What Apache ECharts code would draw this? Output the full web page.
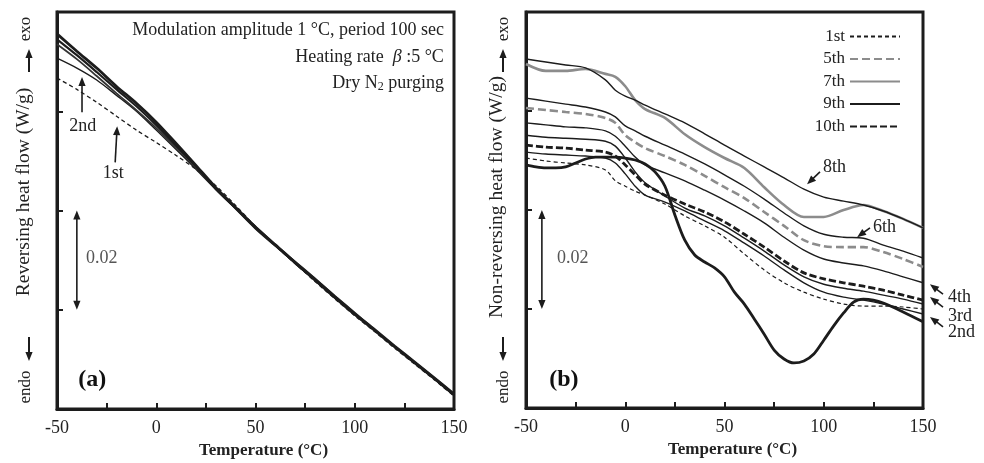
<!DOCTYPE html>
<html>
<head>
<meta charset="utf-8">
<script src="https://cdn.jsdelivr.net/npm/echarts@6/dist/echarts.min.js"></script>
<style>
html, body { margin: 0; padding: 0; background: #fff; }
#chart { width: 984px; height: 463px; }
</style>
</head>
<body>
<div id="chart"></div>
<script>
// ---- panel (a): reversing heat flow (W/g) vs temperature (°C)
const tempA = [-50, -40, -30, -20, -10, 0, 10, 20, 30, 40, 50, 60, 70, 80, 90, 100, 110, 120, 130, 140, 150];
const revRunA = [0.0756, 0.0721, 0.0687, 0.0650, 0.0616, 0.0578, 0.0535, 0.0491, 0.0446, 0.0406, 0.0366, 0.0331, 0.0295, 0.0261, 0.0226, 0.0192, 0.0160, 0.0127, 0.0095, 0.0063, 0.0030];
const revRunB = [0.0745, 0.0713, 0.0679, 0.0644, 0.0610, 0.0572, 0.0531, 0.0489, 0.0444, 0.0404, 0.0364, 0.0329, 0.0295, 0.0259, 0.0224, 0.0190, 0.0158, 0.0125, 0.0093, 0.0061, 0.0028];
const revRunC = [0.0735, 0.0705, 0.0671, 0.0636, 0.0602, 0.0566, 0.0527, 0.0487, 0.0446, 0.0406, 0.0368, 0.0331, 0.0297, 0.0263, 0.0228, 0.0194, 0.0160, 0.0127, 0.0095, 0.0063, 0.0030];
const rev2nd = [0.0707, 0.0687, 0.0663, 0.0632, 0.0600, 0.0562, 0.0523, 0.0483, 0.0442, 0.0404, 0.0366, 0.0329, 0.0293, 0.0259, 0.0224, 0.0190, 0.0158, 0.0125, 0.0093, 0.0061, 0.0028];
const rev1st = [0.0667, 0.0644, 0.0618, 0.0590, 0.0562, 0.0537, 0.0511, 0.0483, 0.0450, 0.0410, 0.0368, 0.0329, 0.0293, 0.0257, 0.0222, 0.0188, 0.0156, 0.0123, 0.0091, 0.0059, 0.0026];

// ---- panel (b): non-reversing heat flow (W/g)
const tempB = [-50, -40, -30, -20, -10, -5, 0, 5, 10, 20, 30, 40, 50, 60, 70, 80, 90, 100, 110, 120, 130, 140, 150];
const nr1st = [0.0505, 0.0499, 0.0495, 0.0491, 0.0481, 0.0459, 0.0448, 0.0438, 0.0430, 0.0412, 0.0388, 0.0368, 0.0345, 0.0311, 0.0279, 0.0253, 0.0234, 0.0220, 0.0210, 0.0206, 0.0206, 0.0204, 0.0200];
const nr2nd = [0.0517, 0.0513, 0.0511, 0.0509, 0.0505, 0.0495, 0.0473, 0.0448, 0.0430, 0.0416, 0.0398, 0.0378, 0.0358, 0.0333, 0.0307, 0.0279, 0.0253, 0.0234, 0.0224, 0.0218, 0.0210, 0.0200, 0.0190];
const nr3rd = [0.0551, 0.0547, 0.0545, 0.0543, 0.0539, 0.0529, 0.0505, 0.0477, 0.0455, 0.0428, 0.0404, 0.0388, 0.0368, 0.0343, 0.0317, 0.0289, 0.0265, 0.0250, 0.0242, 0.0236, 0.0228, 0.0220, 0.0210];
const nr4th = [0.0576, 0.0572, 0.0568, 0.0566, 0.0560, 0.0549, 0.0529, 0.0507, 0.0491, 0.0475, 0.0459, 0.0440, 0.0420, 0.0398, 0.0374, 0.0345, 0.0319, 0.0301, 0.0293, 0.0287, 0.0277, 0.0265, 0.0253];
const nr5th = [0.0606, 0.0602, 0.0598, 0.0594, 0.0586, 0.0576, 0.0551, 0.0537, 0.0525, 0.0509, 0.0491, 0.0469, 0.0446, 0.0424, 0.0396, 0.0368, 0.0339, 0.0327, 0.0325, 0.0325, 0.0315, 0.0301, 0.0285];
const nr6th = [0.0626, 0.0620, 0.0614, 0.0608, 0.0598, 0.0588, 0.0570, 0.0560, 0.0549, 0.0531, 0.0513, 0.0493, 0.0471, 0.0448, 0.0422, 0.0394, 0.0368, 0.0351, 0.0345, 0.0343, 0.0329, 0.0317, 0.0303];
const nr7th = [0.0695, 0.0681, 0.0681, 0.0685, 0.0675, 0.0669, 0.0650, 0.0622, 0.0604, 0.0586, 0.0553, 0.0527, 0.0505, 0.0485, 0.0446, 0.0410, 0.0386, 0.0386, 0.0400, 0.0410, 0.0398, 0.0382, 0.0364];
const nr8th = [0.0705, 0.0699, 0.0693, 0.0687, 0.0663, 0.0642, 0.0630, 0.0622, 0.0612, 0.0594, 0.0576, 0.0554, 0.0531, 0.0509, 0.0487, 0.0465, 0.0442, 0.0426, 0.0418, 0.0410, 0.0398, 0.0382, 0.0364];
const nr10th = [0.0531, 0.0527, 0.0525, 0.0521, 0.0517, 0.0509, 0.0491, 0.0471, 0.0452, 0.0430, 0.0412, 0.0396, 0.0376, 0.0351, 0.0325, 0.0297, 0.0273, 0.0261, 0.0253, 0.0246, 0.0238, 0.0228, 0.0218];
const tempB9 = [-50, -45, -40, -35, -30, -25, -20, -15, -10, -5, 0, 5, 10, 15, 20, 25, 30, 35, 40, 45, 50, 55, 60, 65, 70, 75, 80, 85, 90, 95, 100, 105, 110, 115, 120, 125, 130, 140, 150];
const nr9th = [0.0491, 0.0487, 0.0485, 0.0485, 0.0487, 0.0495, 0.0503, 0.0507, 0.0507, 0.0507, 0.0505, 0.0501, 0.0493, 0.0477, 0.0448, 0.0390, 0.0339, 0.0309, 0.0295, 0.0283, 0.0265, 0.0234, 0.0210, 0.0180, 0.0149, 0.0117, 0.0099, 0.0091, 0.0095, 0.0109, 0.0137, 0.0166, 0.0192, 0.0214, 0.0220, 0.0218, 0.0212, 0.0194, 0.0174];

const xTickLabels = [-50, 0, 50, 100, 150];
const legendRuns = ['1st', '5th', '7th', '9th', '10th'];

// annotation arrows, in data units (°C, W/g)
const notesA = [
    { text: '2nd', from: [-37.4, 0.0598], to: [-37.4, 0.0669], at: [-37.0, 0.0570], align: 'center' },
    { text: '1st', from: [-20.7, 0.0497], to: [-19.7, 0.0570], at: [-21.7, 0.0475], align: 'center' },
];
const notesB = [
    { text: '8th', from: [98.1, 0.0477], to: [91.6, 0.0452], at: [99.6, 0.0487], align: 'left' },
    { text: '6th', from: [123.3, 0.0364], to: [116.8, 0.0345], at: [124.8, 0.0366], align: 'left' },
    { text: '4th', from: [160.1, 0.0230], to: [153.5, 0.0250], at: [162.6, 0.0224], align: 'left' },
    { text: '3rd', from: [160.1, 0.0204], to: [153.5, 0.0224], at: [162.6, 0.0186], align: 'left' },
    { text: '2nd', from: [160.1, 0.0164], to: [153.5, 0.0184], at: [162.6, 0.0152], align: 'left' },
];
const scaleA = { from: [-40, 0.02], to: [-40, 0.04], at: [-35.4, 0.0303] };
const scaleB = { from: [-42, 0.02], to: [-42, 0.04], at: [-34.4, 0.0303] };

const ink = '#1c1c1c';
const serif = '"Liberation Serif", "Times New Roman", Times, serif';

const chart = echarts.init(document.getElementById('chart'));

function pairs(xs, ys) {
    return xs.map((x, i) => [x, ys[i]]);
}

function curve(name, gi, xs, ys, color, width, dash) {
    return {
        name: name,
        type: 'line',
        xAxisIndex: gi,
        yAxisIndex: gi,
        data: pairs(xs, ys),
        symbol: 'none',
        showSymbol: false,
        smooth: 0.3,
        silent: true,
        lineStyle: { color: color, width: width, type: dash || 'solid' },
        itemStyle: { color: color },
    };
}

function xAxis(gi) {
    return {
        gridIndex: gi,
        type: 'value',
        min: -50,
        max: 150,
        interval: 25,
        axisLine: { show: true, onZero: false, lineStyle: { color: ink, width: 3 } },
        axisTick: { show: true, inside: true, length: 6, lineStyle: { color: ink, width: 2 } },
        axisLabel: {
            margin: 10,
            fontFamily: serif,
            fontSize: 18,
            color: '#222',
            formatter: (v) => (xTickLabels.includes(v) ? String(v) : ''),
        },
        splitLine: { show: false },
        name: 'Temperature (°C)',
        nameLocation: 'middle',
        nameGap: 30,
        nameTextStyle: { fontFamily: serif, fontSize: 17, fontWeight: 'bold', color: '#222', padding: [0, 0, 0, 16] },
    };
}

function yAxis(gi) {
    return {
        gridIndex: gi,
        type: 'value',
        min: 0,
        max: 0.08,
        interval: 0.02,
        axisLine: { show: true, onZero: false, lineStyle: { color: ink, width: 3 } },
        axisTick: { show: true, inside: true, length: 6, lineStyle: { color: ink, width: 2 } },
        axisLabel: { show: false },
        splitLine: { show: false },
    };
}

const gridBase = { show: true, borderColor: ink, borderWidth: 3, backgroundColor: 'transparent', containLabel: false, outerBoundsMode: 'none' };

chart.setOption({
    animation: false,
    backgroundColor: '#fff',
    grid: [
        Object.assign({ left: 57, right: 530, top: 12, bottom: 54 }, gridBase),
        Object.assign({ left: 526, right: 61, top: 12, bottom: 55 }, gridBase),
    ],
    xAxis: [xAxis(0), xAxis(1)],
    yAxis: [yAxis(0), yAxis(1)],
    legend: {
        data: legendRuns,
        orient: 'vertical',
        right: 83,
        top: 28,
        align: 'right',
        itemWidth: 50,
        itemHeight: 12,
        itemGap: 5.5,
        padding: 0,
        selectedMode: false,
        itemStyle: { opacity: 0 },
        textStyle: { fontFamily: serif, fontSize: 17, color: '#222', lineHeight: 17 },
    },
    series: [
        // (a)
        curve('a-1st', 0, tempA, rev1st, ink, 1.3, [4, 3]),
        curve('a-2nd', 0, tempA, rev2nd, ink, 1.4),
        curve('a-run-c', 0, tempA, revRunC, '#333', 1.8),
        curve('a-run-b', 0, tempA, revRunB, ink, 2.2),
        curve('a-run-a', 0, tempA, revRunA, ink, 2.8),
        // (b)
        curve('1st', 1, tempB, nr1st, ink, 1.2, [4, 3]),
        curve('2nd', 1, tempB, nr2nd, ink, 1.4),
        curve('3rd', 1, tempB, nr3rd, ink, 1.4),
        curve('4th', 1, tempB, nr4th, ink, 1.4),
        curve('5th', 1, tempB, nr5th, '#8c8c8c', 2.6, [8, 4]),
        curve('6th', 1, tempB, nr6th, ink, 1.4),
        curve('7th', 1, tempB, nr7th, '#8c8c8c', 2.6),
        curve('8th', 1, tempB, nr8th, ink, 1.4),
        curve('10th', 1, tempB, nr10th, ink, 2.8, [7, 3]),
        curve('9th', 1, tempB9, nr9th, ink, 2.8),
    ],
});

// ---- annotations placed through the axes' own scales
function px(gi, p) {
    return chart.convertToPixel({ gridIndex: gi }, p);
}

function arrow(p0, p1, twoHeads, width) {
    const dx = p1[0] - p0[0], dy = p1[1] - p0[1];
    const len = Math.hypot(dx, dy);
    const ux = dx / len, uy = dy / len, nx = -uy, ny = ux;
    const L = 9, W = 3.6;
    const head = (tip, sx, sy) => ({
        type: 'polygon',
        silent: true,
        z: 50,
        shape: { points: [[tip[0], tip[1]], [tip[0] - sx * L + nx * W, tip[1] - sy * L + ny * W], [tip[0] - sx * L - nx * W, tip[1] - sy * L - ny * W]] },
        style: { fill: ink },
    });
    const a = twoHeads ? [p0[0] + ux * L * 0.7, p0[1] + uy * L * 0.7] : p0;
    const b = [p1[0] - ux * L * 0.7, p1[1] - uy * L * 0.7];
    const els = [{
        type: 'line', silent: true, z: 50,
        shape: { x1: a[0], y1: a[1], x2: b[0], y2: b[1] },
        style: { stroke: ink, lineWidth: width || 1.6 },
    }, head(p1, ux, uy)];
    if (twoHeads) els.push(head(p0, -ux, -uy));
    return els;
}

function txt(p, text, o) {
    o = o || {};
    const style = {
        text: text,
        fill: o.color || '#222',
        fontFamily: serif,
        fontSize: o.size || 18,
        fontWeight: o.weight || 'normal',
        align: o.align || 'center',
        verticalAlign: 'middle',
    };
    if (o.rich) style.rich = o.rich;
    return { type: 'text', x: p[0], y: p[1], rotation: o.rot || 0, silent: true, z: 60, style: style };
}

const g = [];
notesA.forEach((n) => {
    g.push(...arrow(px(0, n.from), px(0, n.to)));
    g.push(txt(px(0, n.at), n.text, { align: n.align }));
});
notesB.forEach((n) => {
    g.push(...arrow(px(1, n.from), px(1, n.to)));
    g.push(txt(px(1, n.at), n.text, { align: n.align }));
});
[[0, scaleA], [1, scaleB]].forEach(([gi, s]) => {
    g.push(...arrow(px(gi, s.from), px(gi, s.to), true));
    g.push(txt(px(gi, s.at), '0.02', { align: 'left', color: '#555' }));
});

g.push(txt(px(0, [-32.3, 0.0059]), '(a)', { size: 24, weight: 'bold', color: '#111' }));
g.push(txt(px(1, [-30.9, 0.0057]), '(b)', { size: 24, weight: 'bold', color: '#111' }));

const rs = { fontFamily: serif, fontSize: 18, fill: '#222' };
g.push(txt(px(0, [144.9, 0.0764]), 'Modulation amplitude 1 °C, period 100 sec', { align: 'right' }));
g.push(txt(px(0, [144.9, 0.0709]), '{r|Heating rate  }{i|β}{r| :5 °C}', {
    align: 'right',
    rich: { r: rs, i: Object.assign({}, rs, { fontStyle: 'italic' }) },
}));
g.push(txt(px(0, [144.9, 0.0657]), '{r|Dry N}{s|2}{r| purging}', {
    align: 'right',
    rich: { r: Object.assign({ lineHeight: 20 }, rs), s: { fontFamily: serif, fontSize: 12, fill: '#222', lineHeight: 12, verticalAlign: 'bottom' } },
}));

// vertical titles with exo / endo arrows
const rot = Math.PI / 2;
g.push(txt([24, 192], 'Reversing heat flow (W/g)', { rot: rot, size: 19.5 }));
g.push(txt([26, 29], 'exo', { rot: rot, size: 17 }));
g.push(txt([26, 387], 'endo', { rot: rot, size: 17 }));
g.push(...arrow([29, 72], [29, 49], false, 2));
g.push(...arrow([29, 337], [29, 361], false, 2));

g.push(txt([497, 197], 'Non-reversing heat flow (W/g)', { rot: rot, size: 19.5 }));
g.push(txt([504, 29], 'exo', { rot: rot, size: 17 }));
g.push(txt([504, 387], 'endo', { rot: rot, size: 17 }));
g.push(...arrow([503, 72], [503, 49], false, 2));
g.push(...arrow([503, 337], [503, 361], false, 2));

chart.setOption({ graphic: g });

window.addEventListener('resize', () => {
    chart.resize();
});
</script>
</body>
</html>
